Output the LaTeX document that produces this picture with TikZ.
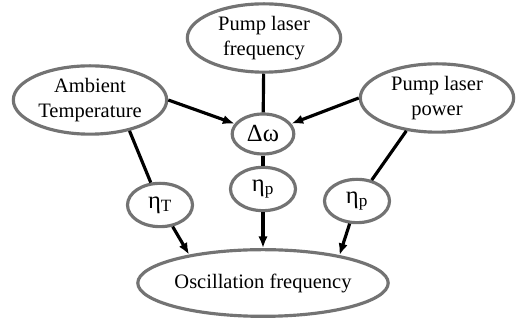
\documentclass[tikz,border=0pt]{standalone}
\usepackage{fontspec}
\setmainfont{Liberation Serif}
\usepackage{tikz}
\usetikzlibrary{arrows.meta,positioning,shapes}
\usetikzlibrary{shapes.geometric}
\definecolor{ringgray}{RGB}{115,115,115}

\begin{document}
\begin{tikzpicture}[x=0.03cm,y=-0.03cm,
					oval/.style={ellipse,draw=ringgray,line width=2.7pt,fill=white,
							inner sep=0pt,align=center,
							font=\fontsize{17.5}{21}\selectfont},
					bigoval/.style={oval,minimum width=4.6cm,minimum height=2.05cm},
					smalloval/.style={oval,minimum width=1.95cm,minimum height=1.3cm,
							font=\fontsize{21}{24}\selectfont},
					link/.style={line width=2.7pt,black},
					arr/.style={link,-{Latex[length=10pt,width=8pt]}}]
				\useasboundingbox (0,0) rectangle (518,320);
				\node[bigoval] (freq) at (264,38)  {Pump laser\\frequency};
				\node[bigoval] (amb)  at (90,100)  {Ambient\\Temperature};
				\node[bigoval] (pow)  at (437,98)  {Pump laser\\power};
				\node[smalloval,minimum width=1.85cm,minimum height=1.2cm] (dw) at (263,134) {Δω};
				\node[smalloval] (etaT) at (160,205) {η\textsubscript{T}};
				\node[smalloval] (etaP) at (263,189) {η\textsubscript{p}};
				\node[smalloval] (etaW) at (357,201) {η\textsubscript{p}};
				\node[oval,minimum width=7cm,minimum height=2cm] (osc) at (263,283)
				{Oscillation frequency};
				\draw[link] (freq)--(dw);
				\draw[arr] (amb.east)--(dw.160);
				\draw[arr] (pow.west)--(dw.20);
				\draw[link] (amb.322)--(etaT);
				\draw[arr] (etaT)--(osc.159);
				\draw[link] (dw)--(etaP);
				\draw[arr] (etaP)--(osc.north);
				\draw[link] (pow.227)--(etaW);
				\draw[arr] (etaW)--(osc.20);
			\end{tikzpicture}
\end{document}
